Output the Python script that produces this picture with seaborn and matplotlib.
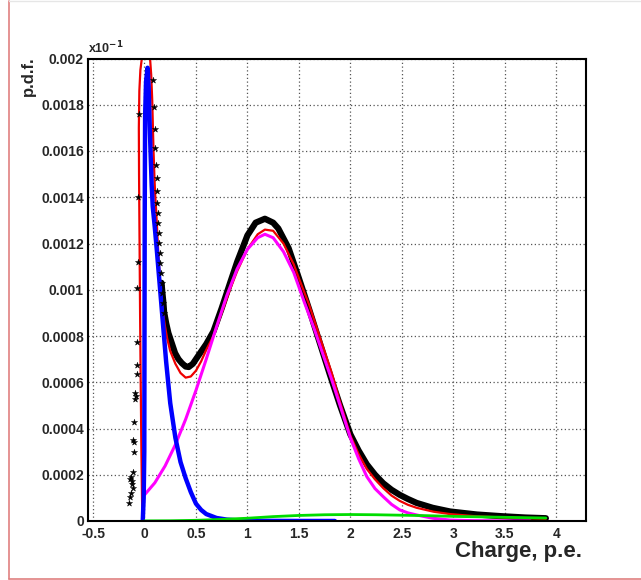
import numpy as np
import seaborn as sns
import matplotlib.pyplot as plt
from matplotlib.lines import Line2D
from matplotlib.ticker import MultipleLocator, FixedLocator


# -------------------------------------------------
# DATA (y values in units of 1e-3)
# -------------------------------------------------
SCALE = 1e-3

# measured points, sparse part (star markers)
stars_x = [-0.052, -0.062, -0.065, -0.069, -0.069, -0.075, -0.075, -0.091, -0.085,
           -0.088, -0.098, -0.108, -0.101, -0.098, -0.114, -0.130, -0.140, -0.118,
           -0.123, -0.114, -0.130, -0.143, -0.150,
           0.086, 0.096, 0.103, 0.106, 0.113, 0.120, 0.122, 0.125, 0.129, 0.135,
           0.142, 0.145, 0.152, 0.152, 0.158, 0.168, 0.174, 0.184, 0.193]
stars_y = [1.758, 1.402, 1.118, 1.007, 0.772, 0.675, 0.636, 0.554, 0.541,
           0.528, 0.430, 0.351, 0.343, 0.300, 0.213, 0.192, 0.182, 0.174,
           0.160, 0.143, 0.123, 0.103, 0.077,
           1.906, 1.791, 1.696, 1.613, 1.541, 1.484, 1.429, 1.375, 1.332, 1.289,
           1.245, 1.202, 1.159, 1.116, 1.072, 1.029, 0.986, 0.942, 0.899]

# measured points, dense part (markers merge into a thick band)
data_x = [0.165, 0.174, 0.184, 0.19, 0.21, 0.232, 0.265, 0.297, 0.33, 0.362, 0.4, 0.43,
          0.47, 0.54, 0.6, 0.67, 0.75, 0.832, 0.9, 1.0, 1.08, 1.17, 1.25, 1.3, 1.4,
          1.5, 1.6, 1.7, 1.8, 1.9, 2.0, 2.08, 2.16, 2.24, 2.32, 2.4, 2.48, 2.56, 2.645,
          2.8, 2.97, 3.23, 3.46, 3.7, 3.9]
data_y = [1.03, 0.986, 0.942, 0.905, 0.856, 0.813, 0.769, 0.726, 0.70, 0.683, 0.668,
          0.666, 0.68, 0.726, 0.765, 0.82, 0.92, 1.03, 1.12, 1.235, 1.29, 1.307, 1.29,
          1.265, 1.18, 1.05, 0.915, 0.775, 0.635, 0.50, 0.375, 0.305, 0.245, 0.20, 0.163,
          0.135, 0.113, 0.095, 0.078, 0.057, 0.041, 0.028, 0.021, 0.015, 0.012]

# total fit
fit_x = [-0.02, -0.024, -0.03, -0.037, -0.043, -0.048, -0.053, -0.055, -0.05, -0.04,
         -0.026, 0.0, 0.02, 0.04, 0.054, 0.065, 0.075, 0.087, 0.097, 0.105, 0.115,
         0.125, 0.135, 0.15, 0.165, 0.18, 0.2, 0.22, 0.25, 0.3, 0.35, 0.4, 0.45, 0.5,
         0.55, 0.6, 0.67, 0.75, 0.83, 0.9, 1.0, 1.1, 1.17, 1.25, 1.35, 1.45, 1.5, 1.6,
         1.7, 1.82, 1.9, 2.0, 2.08, 2.16, 2.24, 2.32, 2.4, 2.48, 2.56, 2.645, 2.81,
         2.97, 3.23, 3.5, 3.9]
fit_y = [0.0, 0.1, 0.3, 0.6, 0.9, 1.2, 1.5, 1.7, 1.86, 1.95,
         2.0, 2.07, 2.09, 2.06, 2.0, 1.93, 1.82, 1.61, 1.48, 1.4, 1.33,
         1.24, 1.15, 1.04, 0.96, 0.9, 0.84, 0.79, 0.735, 0.68, 0.64, 0.62, 0.625, 0.65,
         0.69, 0.74, 0.80, 0.9, 1.0, 1.08, 1.175, 1.24, 1.26, 1.255, 1.2, 1.11, 1.05, 0.935,
         0.80, 0.64, 0.515, 0.37, 0.29, 0.225, 0.18, 0.142, 0.11, 0.087, 0.07, 0.057, 0.04,
         0.03, 0.02, 0.015, 0.01]

# pedestal component
ped_x = [-0.017, -0.008, -0.002, 0.0, 0.002, 0.006, 0.015, 0.03, 0.04, 0.05, 0.06,
         0.07, 0.08, 0.1, 0.12, 0.15, 0.18, 0.21, 0.25, 0.3, 0.35, 0.4, 0.45, 0.5,
         0.55, 0.6, 0.7, 0.8, 0.9, 1.0, 1.2, 1.5, 1.85]
ped_y = [0.0, 0.1, 0.3, 0.8, 1.3, 1.75, 1.9, 1.96, 1.88, 1.72, 1.58,
         1.45, 1.36, 1.27, 1.17, 1.01, 0.85, 0.69, 0.51, 0.36, 0.255, 0.185, 0.125, 0.075,
         0.048, 0.03, 0.013, 0.006, 0.003, 0.0015, 0.0005, 0.0001, 0.0]

# single photoelectron component
spe_x = [0.0, 0.1, 0.2, 0.3, 0.4, 0.5, 0.6, 0.7, 0.8, 0.9, 1.0, 1.1, 1.17, 1.25, 1.35,
         1.45, 1.55, 1.65, 1.75, 1.82, 1.9, 2.0, 2.08, 2.16, 2.24, 2.32, 2.4, 2.48, 2.56,
         2.645, 2.8, 2.97, 3.2, 3.5, 3.75]
spe_y = [0.113, 0.165, 0.238, 0.33, 0.44, 0.565, 0.7, 0.84, 0.975, 1.09, 1.175, 1.225,
         1.24, 1.225, 1.165, 1.075, 0.95, 0.83, 0.70, 0.61, 0.50, 0.36, 0.27, 0.192, 0.14,
         0.105, 0.072, 0.048, 0.035, 0.026, 0.012, 0.004, 0.0015, 0.0005, 0.0]

# broad background component
bkg_x = [0.0, 0.25, 0.5, 0.75, 1.0, 1.25, 1.5, 1.75, 2.0, 2.25, 2.5, 2.75, 3.0, 3.25,
         3.5, 3.75, 3.9]
bkg_y = [0.0005, 0.001, 0.003, 0.007, 0.012, 0.019, 0.024, 0.027, 0.028, 0.027, 0.025,
         0.023, 0.02, 0.018, 0.016, 0.014, 0.013]

x_ticks = [-0.5, 0, 0.5, 1, 1.5, 2, 2.5, 3, 3.5, 4]
x_tick_labels = ["-0.5", "0", "0.5", "1", "1.5", "2", "2.5", "3", "3.5", "4"]
y_ticks = [0, 0.0002, 0.0004, 0.0006, 0.0008, 0.001, 0.0012, 0.0014, 0.0016, 0.0018, 0.002]
y_tick_labels = ["0", "0.0002", "0.0004", "0.0006", "0.0008", "0.001", "0.0012",
                 "0.0014", "0.0016", "0.0018", "0.002"]


def scaled(values):
    return np.array(values) * SCALE


# -------------------------------------------------
# PLOT
# -------------------------------------------------
sns.set_style("white")
plt.rcParams["font.family"] = ["Liberation Sans", "DejaVu Sans"]
plt.rcParams["font.weight"] = "bold"
plt.rcParams["mathtext.default"] = "bf"

fig = plt.figure(figsize=(6.41, 5.8), dpi=100)
ax = fig.add_axes([88 / 641, 1 - 521 / 580, (586 - 88) / 641, (521 - 58.5) / 580])

line_kw = dict(estimator=None, sort=False, legend=False, ax=ax)
sns.lineplot(x=data_x, y=scaled(data_y), color="black", linewidth=4.5,
             solid_capstyle="round", **line_kw)
sns.lineplot(x=fit_x, y=scaled(fit_y), color="#ee0000", linewidth=1.6, **line_kw)
sns.lineplot(x=spe_x, y=scaled(spe_y), color="#ff00ff", linewidth=2.2, **line_kw)
sns.lineplot(x=ped_x, y=scaled(ped_y), color="#0000ff", linewidth=3.2, **line_kw)
sns.lineplot(x=bkg_x, y=scaled(bkg_y), color="#00dd00", linewidth=2.0, **line_kw)
sns.scatterplot(x=stars_x, y=scaled(stars_y), marker="*", s=22, color="black",
                edgecolor="black", linewidth=0.3, legend=False, ax=ax, zorder=5)

ax.set_xlim(-0.549, 4.29)
ax.set_ylim(0, 0.002)

ax.xaxis.set_major_locator(FixedLocator(x_ticks))
ax.set_xticklabels(x_tick_labels)
ax.xaxis.set_minor_locator(MultipleLocator(0.1))
ax.yaxis.set_major_locator(FixedLocator(y_ticks))
ax.set_yticklabels(y_tick_labels)
ax.yaxis.set_minor_locator(MultipleLocator(0.00005))

ax.tick_params(which="both", direction="in", top=False, right=False,
               labelsize=10, width=1.0, color="black")
ax.tick_params(which="major", length=6)
ax.tick_params(axis="x", which="major", pad=4)
ax.tick_params(axis="y", which="major", pad=3)
ax.tick_params(which="minor", length=3)
for lab in ax.get_xticklabels() + ax.get_yticklabels():
    lab.set_fontweight("bold")

ax.grid(True, which="major", color="#555555", linestyle=(0, (1, 2)), linewidth=0.9)
for spine in ax.spines.values():
    spine.set_color("black")
    spine.set_linewidth(1.5)
    spine.set_visible(True)

ax.set_xlabel("")
ax.set_ylabel("")
ax.text(0, 1.004, "x10$^{-1}$", transform=ax.transAxes, ha="left", va="bottom",
        fontsize=9, fontweight="bold")

fig.text(28 / 641, 1 - 56 / 580, "p.d.f.", rotation=90, ha="center", va="top",
         fontsize=12, fontweight="bold")
fig.text(582 / 641, 1 - 551 / 580, "Charge, p.e.", ha="right", va="center",
         fontsize=16, fontweight="bold")

# canvas border
fig.add_artist(Line2D([8.5 / 641, 8.5 / 641], [1 - 579 / 580, 1 - 1 / 580],
                      color="#e08080", linewidth=1.2, transform=fig.transFigure))
fig.add_artist(Line2D([8.5 / 641, 1.0], [1 - 579 / 580, 1 - 579 / 580],
                      color="#e08080", linewidth=1.2, transform=fig.transFigure))
fig.add_artist(Line2D([8.5 / 641, 1.0], [1 - 1 / 580, 1 - 1 / 580],
                      color="#e6e6e6", linewidth=1.0, transform=fig.transFigure))

plt.savefig("out.png", dpi=100)
